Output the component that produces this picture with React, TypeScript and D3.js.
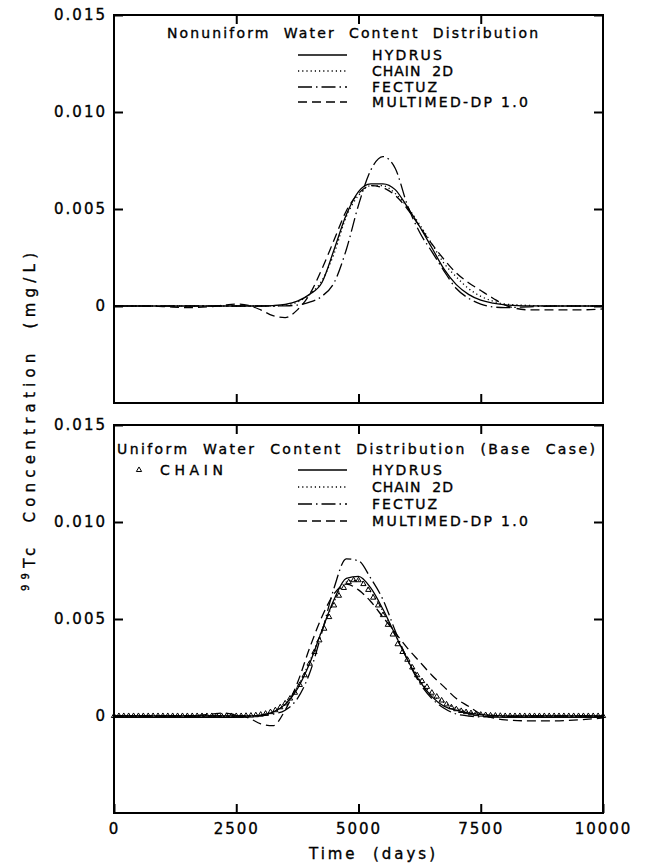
import React, { useEffect, useRef } from "react";
import * as d3 from "d3";

// sampling days for the curves
const days = [0, 500, 1000, 1500, 2000, 2250, 2500, 2750, 3000, 3250, 3500, 3750, 4000, 4250, 4500, 4750, 5000, 5250, 5500, 5750, 6000, 6250, 6500, 6750, 7000, 7250, 7500, 7750, 8000, 8500, 9000, 9500, 10000];

// Nonuniform water content (top panel), mg/L
const hydrusTop = [0, 0, 0, 0, 0, 0, 0, 0, 0, 0.00002, 0.00008, 0.00025, 0.0006, 0.0012, 0.0029, 0.0047, 0.0059, 0.0063, 0.0063, 0.006, 0.0051, 0.0041, 0.003, 0.0019, 0.0011, 0.0006, 0.0003, 0.00015, 0.00006, 0.00001, 0, 0, 0];
const chain2dTop = [0, 0, 0, 0, 0, 0, 0, 0, 0, 0, 0.00005, 0.0002, 0.0006, 0.0013, 0.0027, 0.0046, 0.0057, 0.0062, 0.0062, 0.0058, 0.0051, 0.0042, 0.0032, 0.0022, 0.0015, 0.0009, 0.0005, 0.00025, 0.0001, 0.00003, 0, 0, 0];
const fectuzTop = [0, 0, 0, 0, 0, 0, 0, 0, 0, 0, 0.00001, 0.00005, 0.0002, 0.0005, 0.0012, 0.0029, 0.0052, 0.007, 0.0077, 0.0071, 0.0052, 0.0038, 0.0028, 0.0018, 0.0009, 0.0004, 0.0001, -0.00005, -0.00008, -0.00004, 0, 0, 0];
const multimedTop = [0, 0, -0.00003, -0.00008, -0.00003, 0.00005, 0.0001, 0.00003, -0.0002, -0.0005, -0.0006, -0.0002, 0.0006, 0.0019, 0.0034, 0.0049, 0.0058, 0.0062, 0.0061, 0.0057, 0.005, 0.0041, 0.0032, 0.0024, 0.0017, 0.0012, 0.0008, 0.0004, 0.00005, -0.0002, -0.0002, -0.0002, -0.00015];

// Uniform water content, base case (bottom panel), mg/L
const hydrusBottom = [0, 0, 0, 0, 0, 0, 0, 0, 0.00005, 0.0002, 0.0006, 0.0014, 0.0027, 0.0044, 0.006, 0.0071, 0.0072, 0.0066, 0.0055, 0.0042, 0.0029, 0.0018, 0.001, 0.0005, 0.0003, 0.00015, 0.00007, 0.00003, 0, 0, 0, 0, 0];
const chain2dBottom = [0, 0, 0, 0, 0, 0, 0, 0, 0.00005, 0.0002, 0.0006, 0.0015, 0.0028, 0.0044, 0.0059, 0.0069, 0.007, 0.0064, 0.0054, 0.0042, 0.003, 0.0019, 0.0011, 0.0007, 0.0004, 0.0002, 0.0001, 0.00004, 0, 0, 0, 0, 0];
const fectuzBottom = [0, 0, 0, 0, 0, 0, 0, 0, 0.00002, 0.0001, 0.0003, 0.0009, 0.0022, 0.0043, 0.0066, 0.0081, 0.008, 0.0071, 0.006, 0.0044, 0.0029, 0.0017, 0.0009, 0.0004, 0.0001, 0, -0.00005, -0.00005, -0.00003, 0, 0, 0, 0];
const multimedBottom = [0, 0, 0, 0, 0.0001, 0.00015, 0.00005, -0.0001, -0.0004, -0.0005, 0.0003, 0.0017, 0.0035, 0.0051, 0.0063, 0.0068, 0.0065, 0.0059, 0.0051, 0.0043, 0.0035, 0.0028, 0.0021, 0.0015, 0.0009, 0.0005, 0.0001, -0.0001, -0.0002, -0.00025, -0.00025, -0.0002, -0.0001];

// CHAIN (triangles), every 100 days
const chainDays = d3.range(0, 10001, 100);
const chainValues = [
  0, 0, 0, 0, 0, 0, 0, 0, 0, 0, 0, 0, 0, 0, 0, 0, 0, 0, 0, 0, 0, 0, 0, 0, 0, 0, 0,
  0.00001, 0.00002, 0.00004, 0.00007, 0.00012, 0.0002, 0.0003, 0.00045, 0.00065, 0.0009,
  0.0012, 0.0016, 0.0021, 0.0027, 0.0033, 0.0039, 0.0045, 0.0051, 0.0057, 0.0062,
  0.0066, 0.0069, 0.007, 0.007, 0.0068, 0.0065, 0.0061, 0.0057, 0.0052, 0.0047,
  0.0042, 0.0037, 0.0033, 0.0029, 0.0025, 0.0021, 0.0018, 0.0015, 0.0012, 0.001,
  0.0008, 0.0006, 0.00045, 0.00035, 0.00026, 0.0002, 0.00015, 0.0001, 0.00007, 0.00005,
  0.00003, 0.00002, 0.00001,
  0, 0, 0, 0, 0, 0, 0, 0, 0, 0, 0, 0, 0, 0, 0, 0, 0, 0, 0, 0, 0,
];

const seriesNames = ["HYDRUS", "CHAIN  2D", "FECTUZ", "MULTIMED-DP 1.0"];
const dashes = ["none", "1.2 3", "14 4 1.5 4", "9 5"];
const legendWidths = [70, 81, 65, 156];
const yTicks = [0, 0.005, 0.01, 0.015];
const xTicks = [0, 2500, 5000, 7500, 10000];

const panels = [
  {
    top: 15,
    title: "Nonuniform  Water  Content  Distribution",
    titleX: 167, titleW: 371, titleY: 38,
    rowY: [60, 76, 92, 107],
    series: [hydrusTop, chain2dTop, fectuzTop, multimedTop],
    chain: false,
  },
  {
    top: 425,
    title: "Uniform  Water  Content  Distribution  (Base  Case)",
    titleX: 117, titleW: 478, titleY: 454,
    rowY: [475, 492, 509, 526],
    series: [hydrusBottom, chain2dBottom, fectuzBottom, multimedBottom],
    chain: true,
  },
];

const App = (): JSX.Element => {
  const ref = useRef<SVGSVGElement>(null);
  const width = 661;
  const height = 868;
  const left = 114;
  const right = 603;
  const panelH = 388;
  const font = "DejaVu Sans";

  useEffect(() => {
    if (!ref.current) return;
    const svg = d3.select(ref.current);
    svg.selectAll("*").remove();

    const x = d3.scaleLinear().domain([0, 10000]).range([left, right]);
    const fmt = (d: any) => (d === 0 ? "0" : d3.format(".3f")(d));

    const ink = (t: any) => t.attr("fill", "#000").attr("stroke", "#000").attr("stroke-width", 0.35);

    panels.forEach((p, pi) => {
      const y = d3.scaleLinear().domain([-0.005, 0.015]).range([p.top + panelH, p.top]);
      const g = svg.append("g");
      const last = pi === panels.length - 1;

      const styleAxis = (a: any) => {
        a.select(".domain").remove();
        a.selectAll(".tick line").attr("stroke", "#000").attr("stroke-width", 2);
        a.selectAll(".tick text")
          .attr("font-family", font)
          .attr("font-size", 15)
          .attr("letter-spacing", 2)
          .call(ink);
      };

      g.append("g")
        .attr("transform", `translate(${left},0)`)
        .call(d3.axisLeft(y).tickValues(yTicks).tickSize(-9).tickPadding(7).tickFormat(fmt))
        .call(styleAxis);
      g.append("g")
        .attr("transform", `translate(${right},0)`)
        .call(d3.axisRight(y).tickValues(yTicks).tickSize(-9).tickFormat(() => ""))
        .call(styleAxis);
      g.append("g")
        .attr("transform", `translate(0,${p.top})`)
        .call(d3.axisTop(x).tickValues([2500, 5000, 7500]).tickSize(-9).tickFormat(() => ""))
        .call(styleAxis);
      g.append("g")
        .attr("transform", `translate(0,${p.top + panelH})`)
        .call(
          d3.axisBottom(x).tickValues(last ? xTicks : [2500, 5000, 7500]).tickSize(-9).tickPadding(10)
            .tickFormat((d: any) => (last ? String(d) : ""))
        )
        .call(styleAxis);

      // frame
      g.append("rect")
        .attr("x", left).attr("y", p.top)
        .attr("width", right - left).attr("height", panelH)
        .attr("fill", "none").attr("stroke", "#000").attr("stroke-width", 2);

      // curves
      const line = d3.line<number>()
        .x((d, i) => x(days[i]))
        .y((d) => y(d))
        .curve(d3.curveMonotoneX);

      g.append("g")
        .selectAll("path")
        .data(p.series)
        .join("path")
        .attr("d", (d) => line(d))
        .attr("fill", "none")
        .attr("stroke", "#000")
        .attr("stroke-width", 1.3)
        .attr("stroke-dasharray", (d, i) => dashes[i]);

      const tri = d3.symbol().type(d3.symbolTriangle).size(12);
      if (p.chain) {
        g.append("g")
          .selectAll("path")
          .data(chainValues)
          .join("path")
          .attr("d", tri)
          .attr("transform", (d, i) => `translate(${x(chainDays[i])},${y(d)})`)
          .attr("fill", "none")
          .attr("stroke", "#000")
          .attr("stroke-width", 1);

        g.append("path")
          .attr("d", tri)
          .attr("transform", `translate(139,${p.rowY[0] - 5})`)
          .attr("fill", "none").attr("stroke", "#000").attr("stroke-width", 1);
        g.append("text")
          .attr("x", 160).attr("y", p.rowY[0])
          .attr("font-family", font).attr("font-size", 14)
          .attr("textLength", 63).attr("lengthAdjust", "spacing")
          .call(ink)
          .text("CHAIN");
      }

      // legend
      g.append("text")
        .attr("x", p.titleX).attr("y", p.titleY)
        .attr("font-family", font).attr("font-size", 14)
        .attr("textLength", p.titleW).attr("lengthAdjust", "spacing")
        .style("white-space", "pre")
        .call(ink)
        .text(p.title);

      seriesNames.forEach((name, i) => {
        const ry = p.rowY[i];
        g.append("line")
          .attr("x1", 298).attr("x2", 347)
          .attr("y1", ry - 5).attr("y2", ry - 5)
          .attr("stroke", "#000").attr("stroke-width", 1.3)
          .attr("stroke-dasharray", dashes[i]);
        g.append("text")
          .attr("x", 372).attr("y", ry)
          .attr("font-family", font).attr("font-size", 14)
          .attr("textLength", legendWidths[i]).attr("lengthAdjust", "spacing")
          .style("white-space", "pre")
          .call(ink)
          .text(name);
      });
    });

    // axis titles
    svg.append("text")
      .attr("x", 372).attr("y", 859)
      .attr("text-anchor", "middle")
      .attr("font-family", font).attr("font-size", 15)
      .attr("textLength", 126).attr("lengthAdjust", "spacing")
      .style("white-space", "pre")
      .call(ink)
      .text("Time  (days)");

    const yt = svg.append("text")
      .attr("transform", "translate(35,422) rotate(-90)")
      .attr("text-anchor", "middle")
      .attr("font-family", font).attr("font-size", 15)
      .attr("textLength", 338).attr("lengthAdjust", "spacing")
      .style("white-space", "pre")
      .call(ink);
    yt.append("tspan").attr("font-size", 10).attr("dy", -6).text("99");
    yt.append("tspan").attr("dy", 6).text("Tc  Concentration  (mg/L)");
  }, []);

  return (
    <svg
      ref={ref}
      width={width}
      height={height}
      viewBox={`0 0 ${width} ${height}`}
      style={{ position: "absolute", left: 0, top: 0, background: "#fff" }}
    />
  );
};

export default App;
